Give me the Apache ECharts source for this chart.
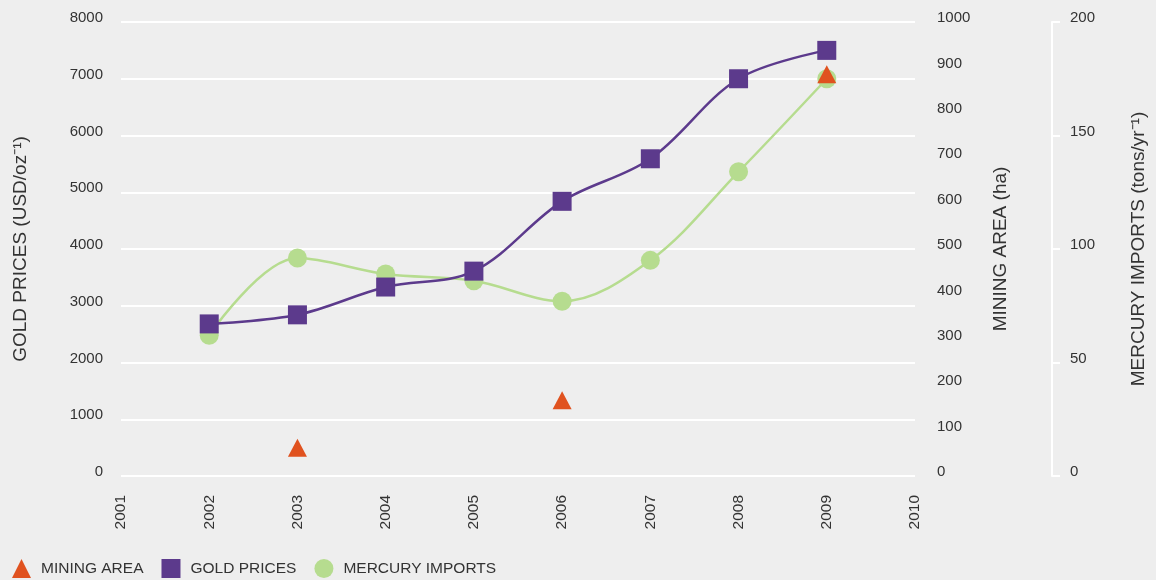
<!DOCTYPE html>
<html>
<head>
<meta charset="utf-8">
<script src="https://cdn.jsdelivr.net/npm/echarts@6/dist/echarts.min.js"></script>
<style>
  html, body { margin: 0; padding: 0; background: #eeeeee; }
  #goldChart { width: 1156px; height: 580px; }
</style>
</head>
<body>
<div id="goldChart"></div>
<script>
// x categories
const years = ['2001', '2002', '2003', '2004', '2005', '2006', '2007', '2008', '2009', '2010']
const dataYears = ['2002', '2003', '2004', '2005', '2006', '2007', '2008', '2009']
// gold price, USD/oz
const goldPrices = [2680, 2840, 3330, 3610, 4840, 5590, 7000, 7500]
// mercury imports, tons/yr
const mercuryImports = [62, 96, 89, 86, 77, 95, 134, 175]
// mining area, ha
const miningYears = ['2003', '2006', '2009']
const miningArea = [62, 167, 885]

const font = '"Liberation Sans", Arial, sans-serif'
const textColor = '#333333'

const pairs = (xs, ys) => xs.map((x, i) => [x, ys[i]])

const chart = echarts.init(document.getElementById('goldChart'))

// tick labels sit a little above their gridline in the original
const labelStyle = {
  color: textColor,
  fontSize: 15,
  fontFamily: font,
  verticalAlign: 'bottom',
  lineHeight: 8,
  formatter: v => String(v),
}
const nameStyle = {
  color: textColor,
  fontSize: 19,
  fontFamily: font,
}

const option = {
  backgroundColor: '#eeeeee',
  animation: false,
  grid: {
    left: 121,
    right: 240,
    top: 22,
    bottom: 104,
  },
  legend: {
    left: 12,
    top: 559,
    padding: 0,
    itemWidth: 19,
    itemHeight: 19,
    itemGap: 18,
    textStyle: { color: textColor, fontSize: 15.5, fontFamily: font, padding: [0, 0, 0, 5] },
    data: [
      { name: 'MINING AREA', icon: 'triangle' },
      { name: 'GOLD PRICES', icon: 'rect' },
      { name: 'MERCURY IMPORTS', icon: 'circle' },
    ],
  },
  xAxis: {
    type: 'category',
    data: years,
    boundaryGap: false,
    axisLine: { show: false },
    axisTick: { show: false },
    axisLabel: {
      rotate: 90,
      margin: 19,
      color: textColor,
      fontSize: 15.5,
      fontFamily: font,
      interval: 0,
    },
    splitLine: { show: false },
  },
  yAxis: [
    {
      type: 'value',
      position: 'left',
      min: 0,
      max: 8000,
      interval: 1000,
      name: 'GOLD PRICES (USD/oz⁻¹)',
      nameLocation: 'middle',
      nameGap: 91,
      nameTextStyle: nameStyle,
      axisLine: { show: false },
      axisTick: { show: false },
      axisLabel: Object.assign({ margin: 18 }, labelStyle),
      splitLine: { show: true, lineStyle: { color: '#ffffff', width: 2 } },
    },
    {
      type: 'value',
      position: 'right',
      min: 0,
      max: 1000,
      interval: 100,
      name: 'MINING AREA (ha)',
      nameLocation: 'middle',
      nameGap: 76,
      nameTextStyle: nameStyle,
      axisLine: { show: false },
      axisTick: { show: false },
      axisLabel: Object.assign({ margin: 22 }, labelStyle),
      splitLine: { show: false },
    },
    {
      type: 'value',
      position: 'right',
      offset: 137,
      min: 0,
      max: 200,
      interval: 50,
      name: 'MERCURY IMPORTS (tons/yr⁻¹)',
      nameLocation: 'middle',
      nameGap: 77,
      nameTextStyle: nameStyle,
      axisLine: { show: true, lineStyle: { color: '#ffffff', width: 2 } },
      axisTick: { show: true, length: 8, lineStyle: { color: '#ffffff', width: 2 } },
      axisLabel: Object.assign({ margin: 18 }, labelStyle),
      splitLine: { show: false },
    },
  ],
  series: [
    {
      name: 'MERCURY IMPORTS',
      type: 'line',
      yAxisIndex: 2,
      data: pairs(dataYears, mercuryImports),
      smooth: 0.35,
      symbol: 'circle',
      symbolSize: 19,
      itemStyle: { color: '#b6dc8f', opacity: 1 },
      lineStyle: { color: '#b6dc8f', width: 2.5 },
      z: 2,
    },
    {
      name: 'GOLD PRICES',
      type: 'line',
      yAxisIndex: 0,
      data: pairs(dataYears, goldPrices),
      smooth: 0.35,
      symbol: 'rect',
      symbolSize: 19,
      itemStyle: { color: '#5c3a8c', opacity: 1 },
      lineStyle: { color: '#5c3a8c', width: 2.5 },
      z: 3,
    },
    {
      name: 'MINING AREA',
      type: 'scatter',
      yAxisIndex: 1,
      data: pairs(miningYears, miningArea),
      symbol: 'triangle',
      symbolSize: [19, 18],
      itemStyle: { color: '#e0521f', opacity: 1 },
      z: 4,
    },
  ],
}

chart.setOption(option)
</script>
</body>
</html>
